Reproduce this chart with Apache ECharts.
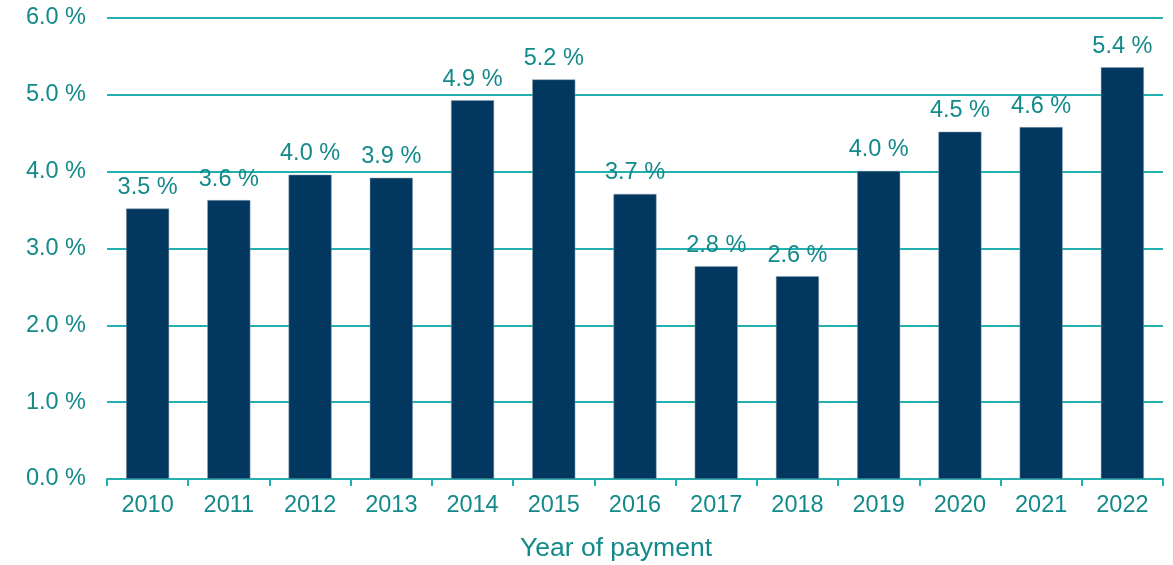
<!DOCTYPE html>
<html>
<head>
<meta charset="utf-8">
<script src="https://cdn.jsdelivr.net/npm/echarts@6/dist/echarts.min.js"></script>
<style>
  html, body { margin: 0; padding: 0; background: #fff; }
  #chart { width: 1173px; height: 565px; }
</style>
</head>
<body>
<div id="chart"></div>
<script>
// 支払年
const years = ["2010", "2011", "2012", "2013", "2014", "2015", "2016", "2017", "2018", "2019", "2020", "2021", "2022"];
// 比率 (%)
const rates = [3.52, 3.63, 3.96, 3.92, 4.93, 5.2, 3.71, 2.77, 2.64, 4.01, 4.52, 4.58, 5.36];
const yTicks = [0, 1, 2, 3, 4, 5, 6];

const teal = "#13898a";
const gridTeal = "#22b0b0";
const font = "Liberation Sans, Arial, sans-serif";

const chart = echarts.init(document.getElementById("chart"));
chart.setOption({
  animation: false,
  grid: { left: 107, right: 10, top: 18, bottom: 86, outerBoundsMode: "none" },
  xAxis: {
    type: "category",
    data: years,
    name: "Year of payment",
    nameLocation: "middle",
    nameGap: 56,
    nameTextStyle: { color: teal, fontSize: 26.5, fontFamily: font, padding: [0, 38, 0, 0] },
    axisLine: { lineStyle: { color: gridTeal, width: 2 } },
    axisTick: { show: true, length: 7, lineStyle: { color: gridTeal, width: 2 } },
    axisLabel: { color: teal, fontSize: 23.5, fontFamily: font, margin: 15 },
  },
  yAxis: {
    type: "value",
    min: yTicks[0],
    max: yTicks[yTicks.length - 1],
    interval: 1,
    axisLine: { show: false },
    axisTick: { show: false },
    axisLabel: {
      color: teal, fontSize: 23.5, fontFamily: font, margin: 21,
      padding: [8, 0, 0, 0],
      formatter: (v) => v.toFixed(1) + " %",
    },
    splitLine: { lineStyle: { color: gridTeal, width: 2 } },
  },
  series: [
    {
      type: "bar",
      data: rates,
      barWidth: "53%",
      itemStyle: { color: "#02375f", borderColor: "#8fa3b5", borderWidth: 0.5 },
      label: {
        show: true,
        position: "top",
        distance: 9,
        color: teal,
        fontSize: 23.5,
        fontFamily: font,
        formatter: (p) => p.value.toFixed(1) + " %",
      },
    },
  ],
});
</script>
</body>
</html>
